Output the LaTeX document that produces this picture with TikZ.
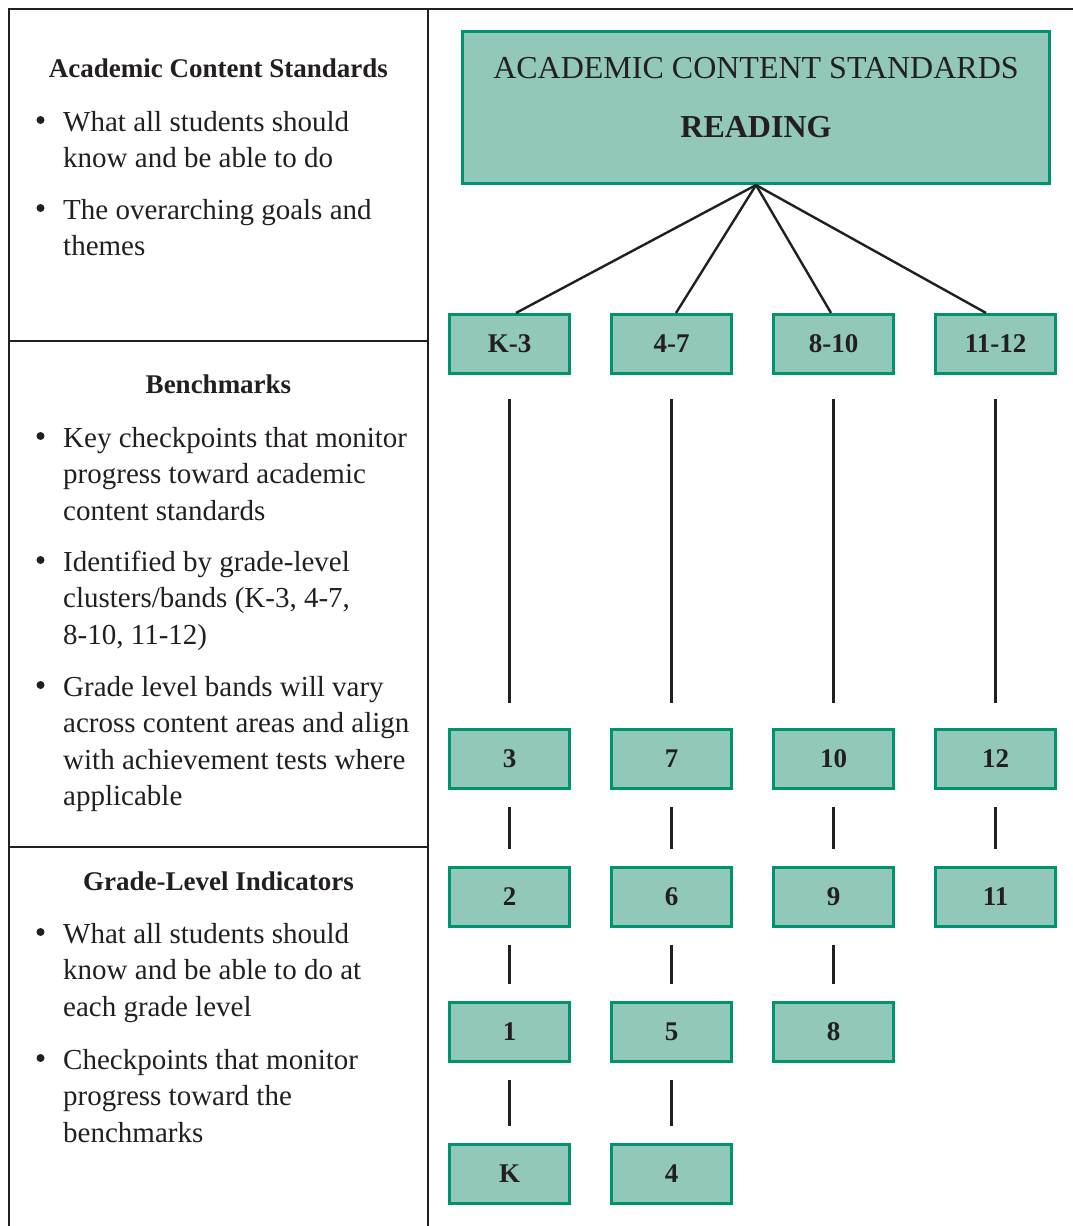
\documentclass[tikz,border=0pt]{standalone}
\usepackage{fontspec}
\setmainfont{Liberation Serif}
\usepackage{xcolor}
\usetikzlibrary{positioning}

\definecolor{boxfill}{RGB}{145,200,185}
\definecolor{boxline}{RGB}{0,147,111}
\definecolor{ink}{RGB}{35,31,32}

\begin{document}
\begin{tikzpicture}[x=1pt, y=-1pt,
    frame/.style={draw=ink, line width=2.4pt},
    link/.style={draw=ink, line width=2.4pt},
    rung/.style={link, shorten <=17pt, shorten >=17pt},
    topbox/.style={draw=boxline, fill=boxfill, line width=2.6pt, minimum width=587.5pt, minimum height=152.5pt, inner sep=0pt},
    toptext/.style={anchor=base, align=center, inner sep=0pt, text=ink, font=\fontsize{32}{59}\selectfont},
    grade/.style={draw=boxline, fill=boxfill, line width=2.6pt, minimum width=120.5pt, minimum height=59.5pt, inner sep=0pt, text=ink, font=\fontsize{27}{32}\selectfont\bfseries},
    heading/.style={anchor=base, inner sep=0pt, text=ink, font=\fontsize{27}{32}\selectfont\bfseries},
    itemtext/.style={anchor=base west, align=left, inner sep=0pt, text=ink, font=\fontsize{29}{36.5}\selectfont}]
    \useasboundingbox (0,0) rectangle (1073,1226);

    % table frame
    \draw[frame] (9,1226) -- (9,9) -- (1073,9);
    \draw[frame] (428,9) -- (428,1226);
    \draw[frame] (9,341) -- (428,341);
    \draw[frame] (9,847) -- (428,847);

    % left column (items placed at the baseline of their last line)
    \node[heading] (hacs) at (218.5,77) {Academic Content Standards};
    \node[itemtext] (acs1) at (63,167.5) {What all students should\\know and be able to do};
    \node[itemtext] (acs2) at (63,255.5) {The overarching goals and\\themes};

    \node[heading] (hbm) at (218.5,393) {Benchmarks};
    \node[itemtext] (bm1) at (63,520) {Key checkpoints that monitor\\progress toward academic\\content standards};
    \node[itemtext] (bm2) at (63,644) {Identified by grade-level\\clusters/bands (K-3, 4-7,\\8-10, 11-12)};
    \node[itemtext] (bm3) at (63,805.5) {Grade level bands will vary\\across content areas and align\\with achievement tests where\\applicable};

    \node[heading] (hgli) at (218.5,890) {Grade-Level Indicators};
    \node[itemtext] (gli1) at (63,1016) {What all students should\\know and be able to do at\\each grade level};
    \node[itemtext] (gli2) at (63,1142) {Checkpoints that monitor\\progress toward the\\benchmarks};

    \foreach \y in {120,208,436,560,685,932,1058}
        \fill[ink] (40.5,\y) circle (4pt);

    % right column
    \node[topbox] (acs) at (756,107.5) {};
    \node[toptext] (acstext) at (756,137) {ACADEMIC CONTENT STANDARDS\\\textbf{READING}};

    \foreach \name/\x/\y/\t in {ck3/509.5/344/K-3, c47/671.5/344/4-7, c810/833.5/344/8-10, c1112/995.5/344/11-12,
        g3/509.5/759/3, g7/671.5/759/7, g10/833.5/759/10, g12/995.5/759/12,
        g2/509.5/897/2, g6/671.5/897/6, g9/833.5/897/9, g11/995.5/897/11,
        g1/509.5/1032/1, g5/671.5/1032/5, g8/833.5/1032/8,
        gK/509.5/1174/K, g4/671.5/1174/4}
        \node[grade] (\name) at (\x,\y) {\t};

    \draw[link] (acs.south) -- ([xshift=6.5pt]ck3.north);
    \draw[link] (acs.south) -- ([xshift=4.5pt]c47.north);
    \draw[link] (acs.south) -- ([xshift=-2.5pt]c810.north);
    \draw[link] (acs.south) -- ([xshift=-9.5pt]c1112.north);

    \foreach \a/\b in {ck3/g3, c47/g7, c810/g10, c1112/g12}
        \draw[link, shorten <=24pt, shorten >=25pt] (\a.south) -- (\b.north);
    \foreach \a/\b in {g3/g2, g2/g1, g1/gK, g7/g6, g6/g5, g5/g4, g10/g9, g9/g8, g12/g11}
        \draw[rung] (\a.south) -- (\b.north);
\end{tikzpicture}
\end{document}
